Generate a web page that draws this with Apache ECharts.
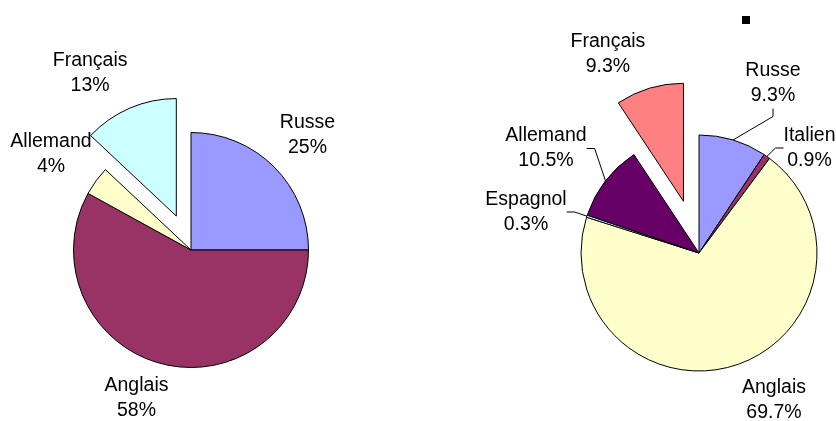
<!DOCTYPE html>
<html><head><meta charset="utf-8">
<script src="https://cdn.jsdelivr.net/npm/echarts@6/dist/echarts.min.js"></script>
<style>html,body{margin:0;padding:0;background:#fff}#c{width:836px;height:421px}</style>
</head><body><div id="c"></div>
<script>
// Left pie data
const leftNames = ['Russe', 'Anglais', 'Allemand', 'Français'];
const leftValues = [25, 58, 4, 13];
const leftColors = ['#9999FF', '#993366', '#FFFFCC', '#CCFFFF'];
const leftExploded = 'Français';

// Right pie data
const rightNames = ['Russe', 'Italien', 'Anglais', 'Espagnol', 'Allemand', 'Français'];
const rightValues = [9.3, 0.9, 69.7, 0.3, 10.5, 9.3];
const rightColors = ['#9999FF', '#993366', '#FFFFCC', '#CCFFFF', '#660066', '#FF8080'];
const rightExploded = 'Français';
const rightNoLine = ['Français', 'Anglais'];

// Layout (not data)
const leftCenter = [191, 250], rightCenter = [699, 253];
const leftLabelOffset = { 'Russe': [116.5, -115], 'Anglais': [-54.5, 148], 'Allemand': [-140, -96] };
const rightLabelOffset = { 'Russe': [74, -169.5], 'Italien': [110.5, -105], 'Anglais': [75, 147], 'Espagnol': [-173, -41], 'Allemand': [-153, -104.5] };
// exploded slice label: placed by the pie's own outside layout (moves with the slice)
const leftExplodedLine = { length: 37.8, length2: 24.5 };
const rightExplodedLine = { length: 35.8, length2: 31.2 };

const font = { fontFamily: '"Liberation Sans", Arial, sans-serif', fontSize: 19.5, lineHeight: 25, color: '#000' };
const hiddenLine = { opacity: 0 };

function buildData(names, values, colors, exploded, explodedLine, noLine) {
  return names.map((n, i) => {
    const d = { name: n, value: values[i], itemStyle: { color: colors[i] } };
    if (noLine.indexOf(n) >= 0) d.labelLine = { show: true, lineStyle: hiddenLine };
    if (n === exploded) {
      d.selected = true;
      d.label = { distanceToLabelLine: 0 };
      d.labelLine = Object.assign({ show: true, lineStyle: hiddenLine }, explodedLine);
    }
    return d;
  });
}

function makeLayout(names, center, offsets) {
  return p => {
    const o = offsets[names[p.dataIndex]];
    if (!o) return { align: 'center', verticalAlign: 'middle' };
    return { x: center[0] + o[0], y: center[1] + o[1], align: 'center', verticalAlign: 'middle' };
  };
}

const chart = echarts.init(document.getElementById('c'), null, { renderer: 'canvas' });
const series = [
  {
    type: 'pie', center: leftCenter, radius: 117.5, startAngle: 90, clockwise: true,
    selectedMode: 'single', selectedOffset: 37, avoidLabelOverlap: false,
    itemStyle: { borderColor: '#000', borderWidth: 1 },
    label: Object.assign({ show: true, position: 'outside', formatter: '{b}\n{c}%' }, font),
    labelLine: { show: true, length: 15, length2: 8, lineStyle: hiddenLine },
    emphasis: { disabled: true },
    labelLayout: makeLayout(leftNames, leftCenter, leftLabelOffset),
    data: buildData(leftNames, leftValues, leftColors, leftExploded, leftExplodedLine, leftNames)
  },
  {
    type: 'pie', center: rightCenter, radius: 118, startAngle: 90, clockwise: true,
    selectedMode: 'single', selectedOffset: 54, avoidLabelOverlap: false,
    itemStyle: { borderColor: '#000', borderWidth: 1 },
    label: Object.assign({ show: true, position: 'outside', formatter: '{b}\n{c}%' }, font),
    labelLine: { show: true, length: 15, length2: 8, lineStyle: { color: '#000', width: 1 } },
    emphasis: { disabled: true },
    labelLayout: makeLayout(rightNames, rightCenter, rightLabelOffset),
    data: buildData(rightNames, rightValues, rightColors, rightExploded, rightExplodedLine, rightNoLine)
  }
];

chart.setOption({
  animation: false,
  backgroundColor: '#fff',
  series: series,
  graphic: [{ type: 'rect', shape: { x: 742, y: 16, width: 8, height: 8 }, style: { fill: '#000' } }]
});
</script>
</body></html>
